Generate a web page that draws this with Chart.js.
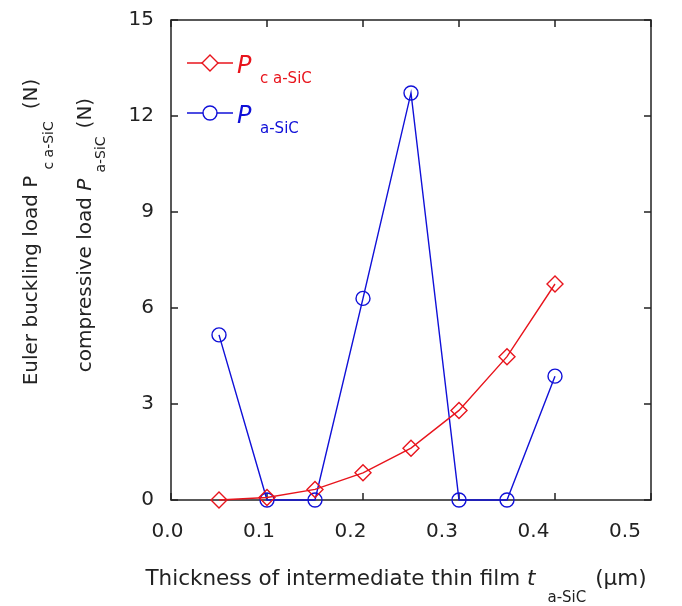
<!DOCTYPE html>
<html>
<head>
<meta charset="utf-8">
<script src="https://cdn.jsdelivr.net/npm/chart.js@4/dist/chart.umd.min.js"></script>
<style>
  html, body { margin: 0; background: #fff; }
</style>
</head>
<body>
<canvas id="chart" width="682" height="606"></canvas>
<script>
const thickness = [0.05, 0.1, 0.15, 0.2, 0.25, 0.3, 0.35, 0.4];
const eulerLoad = [0, 0.08, 0.33, 0.85, 1.62, 2.8, 4.48, 6.75];
const compLoad = [5.16, 0, 0, 6.3, 12.72, 0, 0, 3.87];
const xTicks = [0, 0.1, 0.2, 0.3, 0.4, 0.5];
const yTicks = [0, 3, 6, 9, 12, 15];

const RED = "#e8141c";
const BLUE = "#1010d8";
const FONT = "'DejaVu Sans', Verdana, sans-serif";

// draw a run of text pieces (for subscripts / italics)
function richText(ctx, parts, x, y, align) {
  let total = 0;
  parts.forEach((p) => {
    ctx.font = p.font;
    total += ctx.measureText(p.t).width + (p.gap || 0);
  });
  let cx = align === "center" ? x - total / 2 : x;
  parts.forEach((p) => {
    ctx.font = p.font;
    ctx.fillStyle = p.color || "#222";
    ctx.fillText(p.t, cx, y + (p.dy || 0));
    cx += ctx.measureText(p.t).width + (p.gap || 0);
  });
}

const framePlugin = {
  id: "frame",
  beforeDatasetsDraw(chart) {
    const { ctx, chartArea: a, scales } = chart;
    ctx.save();
    ctx.strokeStyle = "#222";
    ctx.lineWidth = 1.5;
    ctx.strokeRect(a.left, a.top, a.right - a.left, a.bottom - a.top);
    ctx.beginPath();
    xTicks.forEach((v) => {
      const px = scales.x.getPixelForValue(v);
      ctx.moveTo(px, a.bottom); ctx.lineTo(px, a.bottom - 7);
      ctx.moveTo(px, a.top); ctx.lineTo(px, a.top + 7);
    });
    yTicks.forEach((v) => {
      const py = scales.y.getPixelForValue(v);
      ctx.moveTo(a.left, py); ctx.lineTo(a.left + 7, py);
      ctx.moveTo(a.right, py); ctx.lineTo(a.right - 7, py);
    });
    ctx.stroke();
    ctx.restore();
  },
  afterDraw(chart) {
    const { ctx } = chart;
    ctx.save();
    ctx.textBaseline = "alphabetic";
    const big = "20px " + FONT;
    const sub = "14px " + FONT;

    // x title
    const xBig = "21.5px " + FONT;
    richText(ctx, [
      { t: "Thickness of intermediate thin film ", font: xBig },
      { t: "t", font: "italic " + xBig, gap: 12 },
      { t: "a-SiC", font: "15px " + FONT, dy: 17, gap: 9 },
      { t: "(\u00b5m)", font: xBig }
    ], 396, 585, "center");

    // y titles (rotated)
    ctx.save();
    ctx.translate(37, 232);
    ctx.rotate(-Math.PI / 2);
    richText(ctx, [
      { t: "Euler buckling load P", font: big, gap: 6 },
      { t: "c a-SiC", font: sub, dy: 16, gap: 12 },
      { t: "(N)", font: big }
    ], 0, 0, "center");
    ctx.restore();
    ctx.save();
    ctx.translate(91, 235);
    ctx.rotate(-Math.PI / 2);
    richText(ctx, [
      { t: "compressive load ", font: big },
      { t: "P", font: "italic " + big, gap: 6 },
      { t: "a-SiC", font: sub, dy: 14, gap: 8 },
      { t: "(N)", font: big }
    ], 0, 0, "center");
    ctx.restore();

    // legend
    const items = [
      { color: RED, style: "rectRot", r: 8, y: 63, sub: "c a-SiC" },
      { color: BLUE, style: "circle", r: 7, y: 113, sub: "a-SiC" }
    ];
    items.forEach((it) => {
      ctx.strokeStyle = it.color;
      ctx.lineWidth = 1.4;
      ctx.beginPath();
      ctx.moveTo(187, it.y); ctx.lineTo(233, it.y);
      ctx.stroke();
      ctx.fillStyle = "#fff";
      Chart.helpers.drawPoint(ctx, { pointStyle: it.style, radius: it.r, borderWidth: 1.4 }, 210, it.y);
      ctx.fillStyle = it.color;
      ctx.font = "italic 24px " + FONT;
      ctx.fillText("P", 237, it.y + 10);
      ctx.font = "15px " + FONT;
      ctx.fillText(it.sub, 260, it.y + 20);
    });
    ctx.restore();
  }
};

new Chart(document.getElementById("chart"), {
  type: "line",
  data: {
    labels: thickness,
    datasets: [
      {
        label: "P c a-SiC",
        data: thickness.map((t, i) => ({ x: t, y: eulerLoad[i] })),
        xAxisID: "x",
        borderColor: RED,
        backgroundColor: "rgba(255,255,255,0)",
        borderWidth: 1.4,
        pointStyle: "rectRot",
        pointRadius: 8,
        pointBorderWidth: 1.4,
        pointBorderColor: RED,
        pointBackgroundColor: "rgba(255,255,255,0)",
        clip: false
      },
      {
        label: "P a-SiC",
        data: thickness.map((t, i) => ({ x: t, y: compLoad[i] })),
        xAxisID: "x",
        borderColor: BLUE,
        backgroundColor: "rgba(255,255,255,0)",
        borderWidth: 1.4,
        pointStyle: "circle",
        pointRadius: 7,
        pointBorderWidth: 1.4,
        pointBorderColor: BLUE,
        pointBackgroundColor: "rgba(255,255,255,0)",
        clip: false
      }
    ]
  },
  options: {
    responsive: false,
    animation: false,
    layout: { padding: { left: 0, right: 31, top: 20, bottom: 0 } },
    plugins: { legend: { display: false }, tooltip: { enabled: false } },
    scales: {
      x: {
        type: "linear",
        min: 0,
        max: 0.5,
        display: false
      },
      // label axis: the source figure's tick labels sit on a slightly tighter spacing than its ticks
      xLab: {
        type: "linear",
        position: "bottom",
        min: 0.003825,
        max: 0.52842,
        afterBuildTicks: (s) => { s.ticks = xTicks.map((v) => ({ value: v })); },
        afterFit: (s) => { s.height = 106; s.paddingLeft = 0; s.paddingRight = 0; },
        grid: { display: false, drawTicks: false },
        border: { display: false },
        ticks: {
          callback: (v) => v.toFixed(1),
          font: { size: 20, family: FONT },
          color: "#222",
          padding: 20,
          maxRotation: 0
        }
      },
      y: {
        min: 0,
        max: 15,
        afterBuildTicks: (s) => { s.ticks = yTicks.map((v) => ({ value: v })); },
        afterFit: (s) => { s.width = 171; s.paddingTop = 0; s.paddingBottom = 0; },
        grid: { display: false, drawTicks: false },
        border: { display: false },
        ticks: {
          font: { size: 20, family: FONT },
          color: "#222",
          padding: 17
        }
      }
    }
  },
  plugins: [framePlugin]
});
</script>
</body>
</html>
